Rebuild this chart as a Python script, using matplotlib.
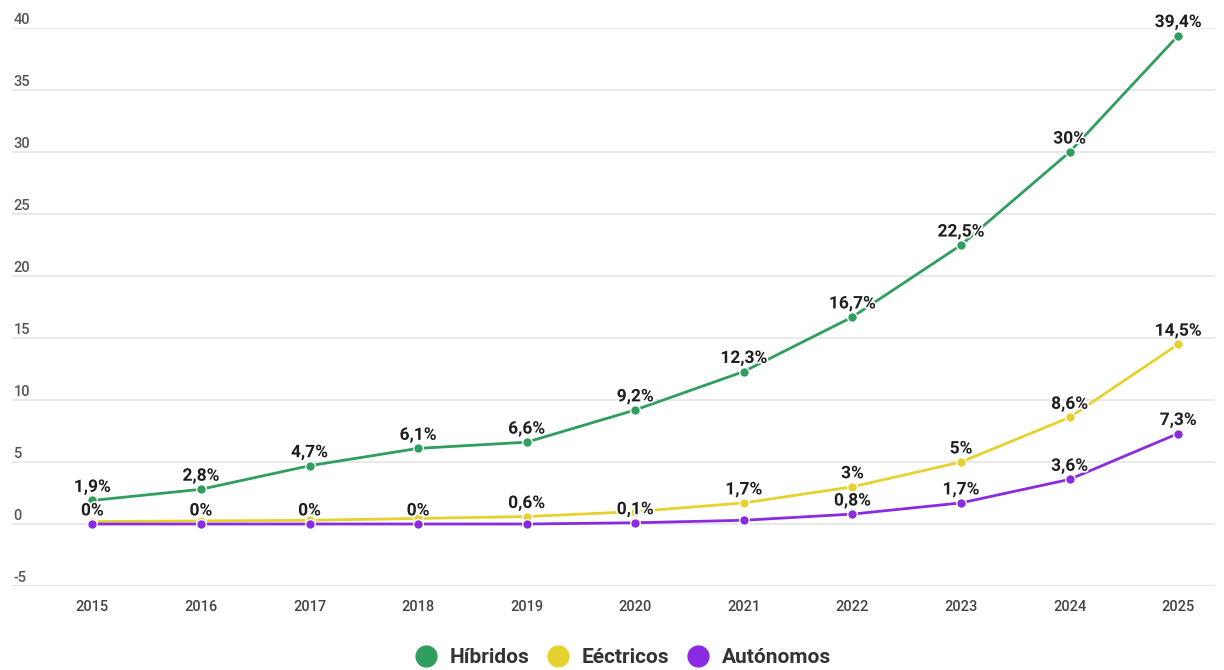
import matplotlib
matplotlib.use("Agg")
import matplotlib.pyplot as plt
import matplotlib.patheffects as pe
from matplotlib.lines import Line2D

plt.rcParams['font.family'] = ['Roboto', 'DejaVu Sans']

years = [2015, 2016, 2017, 2018, 2019, 2020, 2021, 2022, 2023, 2024, 2025]

hibridos = [1.9, 2.8, 4.7, 6.1, 6.6, 9.2, 12.3, 16.7, 22.5, 30.0, 39.4]
electricos = [0.2, 0.25, 0.3, 0.45, 0.6, 1.0, 1.7, 3.0, 5.0, 8.6, 14.5]
autonomos = [0.0, 0.0, 0.0, 0.0, 0.0, 0.1, 0.3, 0.8, 1.7, 3.6, 7.3]

# which point labels are shown (overlapping ones are suppressed)
show_hibridos = [True] * 11
show_electricos = [False, False, False, False, True, False, True, True, True, True, True]
show_autonomos = [True, True, True, True, False, True, False, True, True, True, True]

series_names = ["Híbridos", "Eéctricos", "Autónomos"]
colors = ["#2f9e5e", "#e6d22e", "#8a2be2"]
y_ticks = [-5, 0, 5, 10, 15, 20, 25, 30, 35, 40]


def fmt(v):
    if abs(v - round(v)) < 1e-9:
        return f"{int(round(v))}%"
    return f"{v:.1f}".replace(".", ",") + "%"


fig = plt.figure(figsize=(12.24, 6.70), dpi=100)
ax = fig.add_axes([0.0098, 0.1254, 0.9829, 0.8326])

for yt in y_ticks:
    ax.axhline(yt, color="#e3e3e3", lw=1.5 if yt == -5 else 1.1, zorder=0)

all_series = [(hibridos, show_hibridos), (electricos, show_electricos), (autonomos, show_autonomos)]
for (vals, shows), col in zip(all_series, colors):
    ax.plot(years, vals, color=col, lw=2.0, marker="o", ms=7,
            markeredgecolor="white", markeredgewidth=1.0, zorder=3, clip_on=False)

for (vals, shows), col in zip(all_series, colors):
    for x, v, s in zip(years, vals, shows):
        if s:
            ax.annotate(fmt(v), (x, v), xytext=(0, 4), textcoords="offset points",
                        ha="center", va="bottom", fontsize=12.5, fontweight="bold",
                        color="#1e1e1e", zorder=5,
                        path_effects=[pe.withStroke(linewidth=2.5, foreground="white")])

ax.set_xlim(2014.26, 2025.34)
ax.set_ylim(-5, 40)
ax.set_xticks(years)
ax.set_xticklabels([str(y) for y in years], fontsize=10.5, color="#444444", fontweight="medium")
ax.set_yticks([])
for yt in y_ticks:
    ax.annotate(str(yt), (0, yt), xycoords=ax.get_yaxis_transform(),
                xytext=(1, 1), textcoords="offset points", ha="left", va="bottom",
                fontsize=10.5, color="#555555", fontweight="medium")
ax.tick_params(axis="x", length=0, pad=10)
for sp in ax.spines.values():
    sp.set_visible(False)

handles = [Line2D([0], [0], marker="o", color="none", markerfacecolor=c,
                  markeredgecolor=c, markersize=15) for c in colors]
fig.legend(handles, series_names, loc="center", bbox_to_anchor=(0.505, 0.018),
           ncol=3, frameon=False, handletextpad=0.15, columnspacing=0.35,
           prop={"size": 15, "weight": "bold"}, labelcolor="#333333")

fig.savefig("out.png", dpi=100, facecolor="white")
